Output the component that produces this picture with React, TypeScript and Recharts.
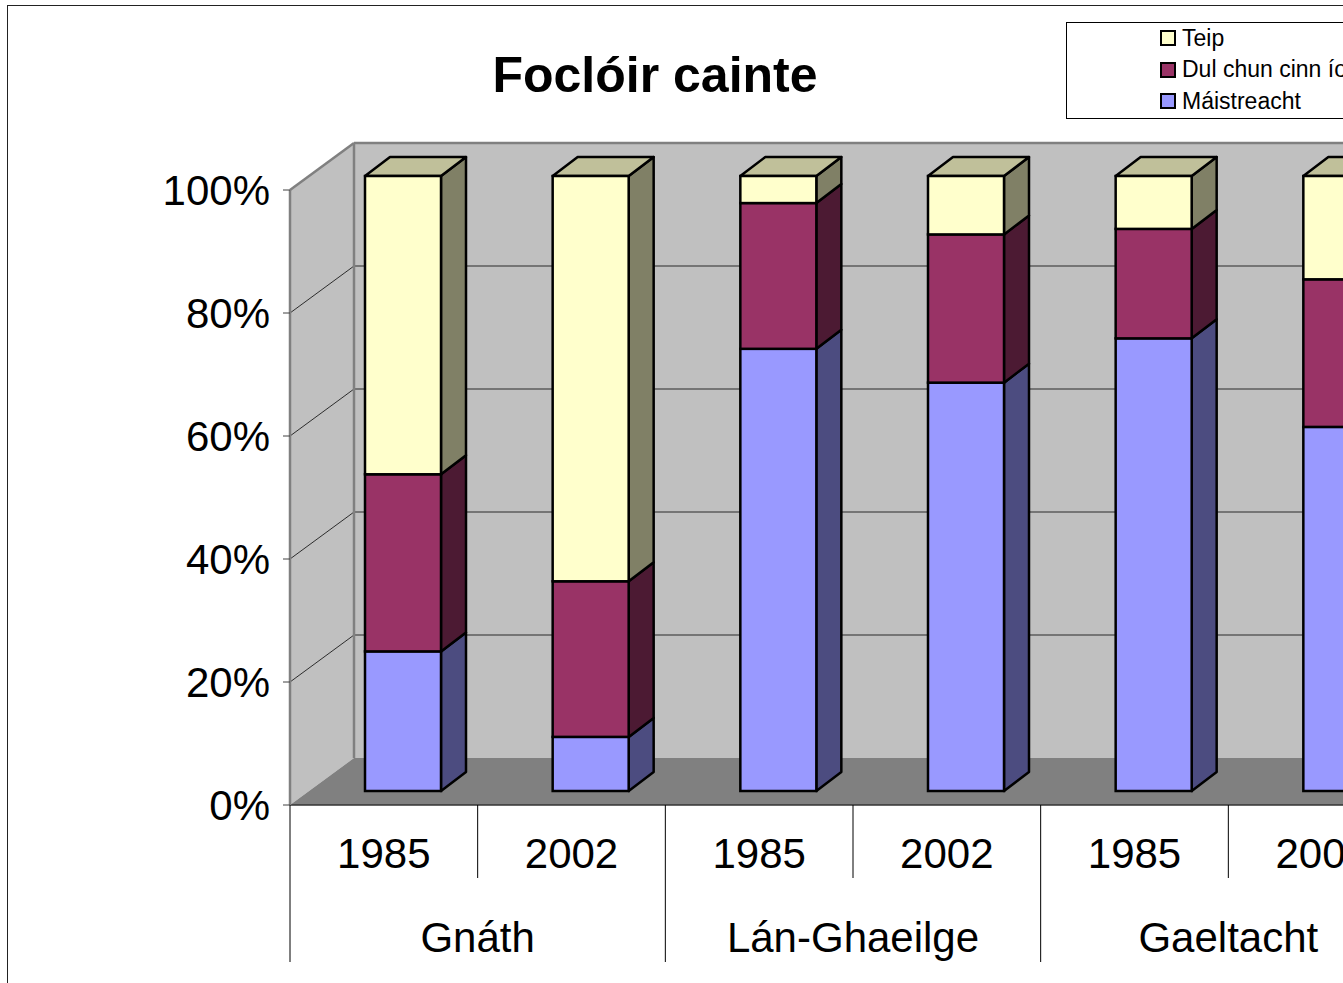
import React from 'react';
import { BarChart, Bar, XAxis, YAxis, Legend, ReferenceArea } from 'recharts';

const FONT = '"Liberation Sans", Arial, sans-serif';

const groups = ['Gnáth', 'Gnáth', 'Lán-Ghaeilge', 'Lán-Ghaeilge', 'Gaeltacht', 'Gaeltacht'];
const years = ['1985', '2002', '1985', '2002', '1985', '2002'];
const maistreacht = [22.7, 8.8, 71.9, 66.4, 73.6, 59.2];
const dulChunCinn = [28.8, 25.3, 23.7, 24.1, 17.8, 24.0];
const teip = [48.5, 65.9, 4.4, 9.5, 8.6, 16.8];
const yTicks = [0, 20, 40, 60, 80, 100];
const wallBands: [number, number][] = [[0, 20], [20, 40], [40, 60], [60, 80], [80, 100]];
const seriesNames = ['Máistreacht', 'Dul chun cinn íosta', 'Teip'];
const title = 'Foclóir cainte';

const data = years.map((y, i) => ({
  id: `${groups[i]} ${y}`,
  year: y,
  group: groups[i],
  m: maistreacht[i],
  d: dulChunCinn[i],
  t: teip[i],
}));

// 3D geometry
const WALL_DX = 64;
const WALL_DY = 47;
const BAR_DX = 19;
const BAR_DY = 14;
const SIDE_DX = 25;
const SIDE_DY = 19;

const makeBarShape = (front: string, side: string, top: string, isTop: boolean) => (p: any) => {
  const { x, y, width: w, height: h } = p;
  if (w == null || h == null) return <g />;
  const fx = x + BAR_DX;
  const fy = y - BAR_DY;
  return (
    <g>
      <polygon
        points={`${fx + w},${fy} ${fx + w + SIDE_DX},${fy - SIDE_DY} ${fx + w + SIDE_DX},${fy + h - SIDE_DY} ${fx + w},${fy + h}`}
        fill={side}
        stroke="#000"
        strokeWidth={2.5}
        strokeLinejoin="round"
      />
      {isTop && (
        <polygon
          points={`${fx},${fy} ${fx + SIDE_DX},${fy - SIDE_DY} ${fx + w + SIDE_DX},${fy - SIDE_DY} ${fx + w},${fy}`}
          fill={top}
          stroke="#000"
          strokeWidth={2.5}
          strokeLinejoin="round"
        />
      )}
      <rect x={fx} y={fy} width={w} height={h} fill={front} stroke="#000" strokeWidth={2.5} />
    </g>
  );
};

const makeWallBand = (lo: number, isBottom: boolean) => (p: any) => {
  const { x, y, width: w, height: h } = p;
  const by = y + h;
  return (
    <g>
      <rect x={x + WALL_DX} y={y - WALL_DY} width={w} height={h} fill="#C0C0C0" />
      <polygon
        points={`${x},${by} ${x},${y} ${x + WALL_DX},${y - WALL_DY} ${x + WALL_DX},${by - WALL_DY}`}
        fill="#C0C0C0"
      />
      {isBottom && (
        <polygon
          points={`${x},${by} ${x + WALL_DX},${by - WALL_DY} ${x + w + WALL_DX},${by - WALL_DY} ${x + w},${by}`}
          fill="#808080"
        />
      )}
      {lo > 0 && (
        <g stroke="#2a2a2a" strokeWidth={1}>
          <line x1={x} y1={by} x2={x + WALL_DX} y2={by - WALL_DY} />
          <line x1={x + WALL_DX} y1={by - WALL_DY} x2={x + w + WALL_DX} y2={by - WALL_DY} />
        </g>
      )}
    </g>
  );
};

const WallEdges = (p: any) => {
  const { x, y, width: w, height: h } = p;
  return (
    <g stroke="#808080" strokeWidth={2.5} fill="none">
      <line x1={x} y1={y} x2={x + WALL_DX} y2={y - WALL_DY} />
      <line x1={x + WALL_DX} y1={y - WALL_DY} x2={x + WALL_DX} y2={y + h - WALL_DY} />
      <line x1={x + WALL_DX} y1={y - WALL_DY} x2={x + w + WALL_DX} y2={y - WALL_DY} />
    </g>
  );
};

const YearTick = (props: any) => {
  const { x, y, payload, width, visibleTicksCount } = props;
  const i = payload?.index ?? props.index ?? 0;
  const half = width && visibleTicksCount ? width / visibleTicksCount / 2 : 93.8;
  const left = x - half;
  const groupStart = i % 2 === 0;
  return (
    <g>
      <line x1={left} y1={y} x2={left} y2={y + (groupStart ? 157 : 73)} stroke="#000" strokeWidth={1} />
      {i === years.length - 1 && (
        <line x1={x + half} y1={y} x2={x + half} y2={y + 157} stroke="#000" strokeWidth={1} />
      )}
      <text x={x} y={y + 63} textAnchor="middle" fontSize={42} fontFamily={FONT} fill="#000">
        {years[i]}
      </text>
    </g>
  );
};

const GroupTick = (props: any) => {
  const { x, y, payload } = props;
  return (
    <text x={x} y={y + 74} textAnchor="middle" fontSize={42} fontFamily={FONT} fill="#000">
      {payload?.value}
    </text>
  );
};

const renderLegend = (props: any) => {
  const items = [...(props.payload || [])].sort(
    (a: any, b: any) => seriesNames.indexOf(b.value) - seriesNames.indexOf(a.value)
  );
  return (
    <div
      style={{
        width: 330,
        height: 97,
        border: '1px solid #000',
        background: '#fff',
        boxSizing: 'border-box',
        position: 'relative',
        fontFamily: FONT,
      }}
    >
      {items.map((it: any, k: number) => (
        <div
          key={k}
          style={{
            position: 'absolute',
            left: 93,
            top: 2 + k * 31.5,
            height: 26,
            display: 'flex',
            alignItems: 'center',
            whiteSpace: 'nowrap',
            fontSize: 23,
            color: '#000',
          }}
        >
          <span
            style={{
              display: 'inline-block',
              width: 12,
              height: 12,
              border: '2px solid #000',
              background: it.color,
              marginRight: 6,
            }}
          />
          {it.value}
        </div>
      ))}
    </div>
  );
};

export default function App() {
  return (
    <div
      style={{
        position: 'fixed',
        left: 0,
        top: 0,
        width: 1343,
        height: 983,
        overflow: 'hidden',
        background: '#fff',
      }}
    >
      <div
        style={{
          position: 'absolute',
          left: 7,
          top: 5,
          width: 1500,
          height: 1100,
          border: '1.5px solid #222',
        }}
      />
      <div style={{ position: 'absolute', left: 0, top: 0 }}>
        <BarChart
          width={1500}
          height={983}
          data={data}
          margin={{ top: 190, right: 84, bottom: 21, left: 0 }}
        >
          {wallBands.map(([lo, hi], k) => (
            <ReferenceArea
              key={`band-${k}`}
              y1={lo}
              y2={hi}
              shape={makeWallBand(lo, lo === 0)}
              ifOverflow="visible"
            />
          ))}
          <ReferenceArea y1={0} y2={100} shape={WallEdges} ifOverflow="visible" />
          <XAxis
            dataKey="id"
            height={73}
            tickLine={false}
            tickSize={0}
            tickMargin={0}
            interval={0}
            axisLine={{ stroke: '#333', strokeWidth: 1.5 }}
            tick={<YearTick />}
          />
          <XAxis
            xAxisId="g"
            dataKey="group"
            allowDuplicatedCategory={false}
            height={84}
            tickLine={false}
            tickSize={0}
            tickMargin={0}
            interval={0}
            axisLine={false}
            tick={<GroupTick />}
          />
          <YAxis
            type="number"
            domain={[0, 100]}
            ticks={yTicks}
            interval={0}
            width={290}
            tickFormatter={(v: number) => `${v}%`}
            tickSize={7}
            tickMargin={13}
            tick={{ fontSize: 42, fill: '#000', fontFamily: FONT }}
            tickLine={{ stroke: '#404040', strokeWidth: 1 }}
            axisLine={{ stroke: '#808080', strokeWidth: 2.5 }}
          />
          <Legend
            layout="horizontal"
            verticalAlign="middle"
            align="center"
            content={renderLegend}
            wrapperStyle={{ left: 1066, top: 22, width: 330, height: 97 }}
          />
          <Bar
            dataKey="m"
            name={seriesNames[0]}
            stackId="a"
            barSize={76}
            fill="#9999FF"
            isAnimationActive={false}
            shape={makeBarShape('#9999FF', '#4C4C80', '#7A7ACC', false)}
          />
          <Bar
            dataKey="d"
            name={seriesNames[1]}
            stackId="a"
            barSize={76}
            fill="#993366"
            isAnimationActive={false}
            shape={makeBarShape('#993366', '#4C1A33', '#7A2952', false)}
          />
          <Bar
            dataKey="t"
            name={seriesNames[2]}
            stackId="a"
            barSize={76}
            fill="#FFFFCC"
            isAnimationActive={false}
            shape={makeBarShape('#FFFFCC', '#808066', '#C0C09A', true)}
          />
        </BarChart>
      </div>
      <div
        style={{
          position: 'absolute',
          left: 0,
          top: 50,
          width: 1310,
          textAlign: 'center',
          fontFamily: FONT,
          fontWeight: 'bold',
          fontSize: 50,
          lineHeight: '50px',
          color: '#000',
        }}
      >
        {title}
      </div>
    </div>
  );
}
